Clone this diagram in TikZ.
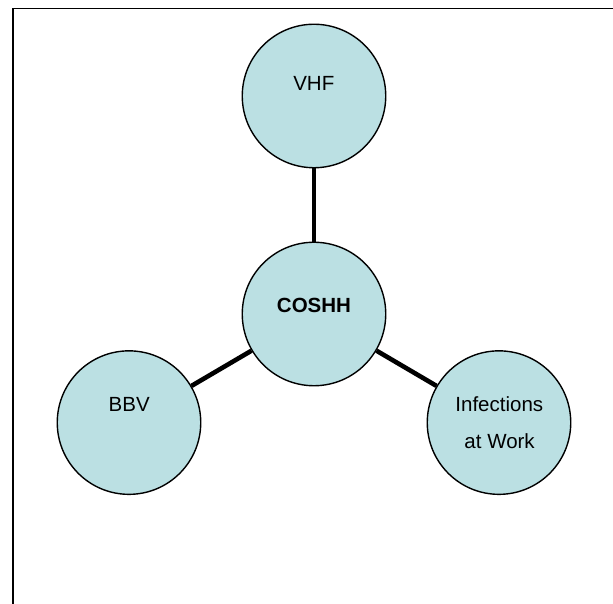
\documentclass[tikz,border=0pt]{standalone}
\usepackage{fontspec}
\setmainfont{Liberation Sans}
\definecolor{bubble}{RGB}{187,224,227}
\tikzset{
  bubble/.style={circle, draw=black, line width=1.4pt, fill=bubble, minimum size=143.5pt, inner sep=0pt},
  lbl/.style={anchor=base, inner sep=0pt, font=\fontsize{20.5}{24}\selectfont},
  link/.style={line width=4.6pt, black},
  frame/.style={line width=1.9pt, black}
}
\begin{document}
\begin{tikzpicture}[x=1pt,y=1pt]
\useasboundingbox (0,0) rectangle (613,604);
% frame (top and left edges)
\draw[frame] (13.2,-2) -- (13.2,595.5) -- (615,595.5);
% circles
\node[bubble] (vhf) at (314,508) {};
\node[bubble] (coshh) at (314,290) {};
\node[bubble] (bbv) at (129,181.4) {};
\node[bubble] (inf) at (499,181.4) {};
% connectors
\draw[link] (vhf) -- (coshh);
\draw[link] (coshh) -- (bbv);
\draw[link] (coshh) -- (inf);
% labels
\node[lbl] (tvhf) at (313.8,513.3) {VHF};
\node[lbl] (tcoshh) at (314,291.3) {\bfseries COSHH};
\node[lbl] (tbbv) at (129.2,192.3) {BBV};
\node[lbl] (tinf1) at (499.3,192.3) {Infections};
\node[lbl] (tinf2) at (499.6,155.3) {at Work};
\end{tikzpicture}
\end{document}
